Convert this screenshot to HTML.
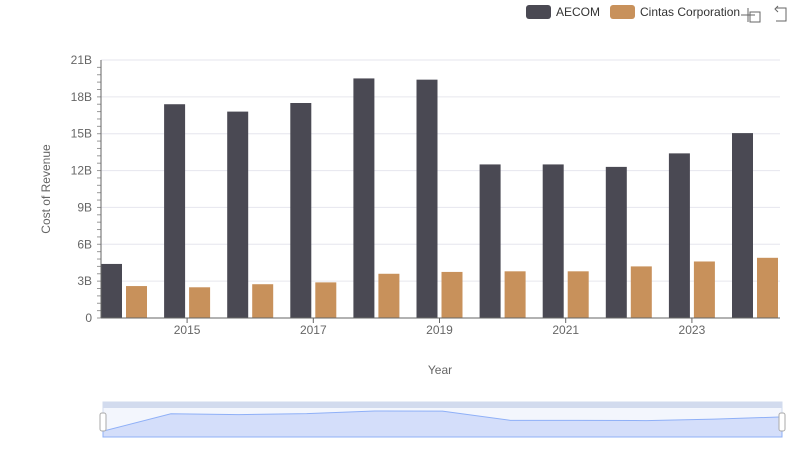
<!DOCTYPE html>
<html><head><meta charset="utf-8"><style>
body{margin:0;background:#fff;font-family:"Liberation Sans",sans-serif}
svg text{font-family:"Liberation Sans",sans-serif}
</style></head><body>
<svg id="c" width="800" height="461" xmlns="http://www.w3.org/2000/svg">
<g>
<rect x="526" y="5" width="25" height="14" rx="3" fill="#4a4953"/>
<text x="556" y="16" font-size="12" fill="#333">AECOM</text>
<rect x="610" y="5" width="25" height="14" rx="3" fill="#c8915b"/>
<text x="640" y="16" font-size="12" fill="#333">Cintas Corporation</text>
<path d="M748 8v14M741 15h14M750 12h10v10h-10z" stroke="#666" fill="none"/>
<path d="M776 8h10v13h-10M778 6l-3 3 3 3" stroke="#666" fill="none"/>
</g>
<g id="grid"></g><g id="bars"></g><g id="axes"></g>
<text x="50" y="189" font-size="12" fill="#666" transform="rotate(-90 50 189)" text-anchor="middle">Cost of Revenue</text>
<text x="440" y="374" font-size="12" fill="#666" text-anchor="middle">Year</text>
<g>
<rect x="103" y="402" width="679" height="35" fill="#f3f6fd" stroke="#d2dbee"/>
<rect x="103" y="402" width="679" height="6" fill="#d2dbee"/>
<path id="zoomArea" fill="#d4defa" stroke="#8fb0f7" stroke-width="1"/>
<rect x="100" y="413" width="6" height="18" rx="2" fill="#fff" stroke="#aaa"/>
<rect x="779" y="413" width="6" height="18" rx="2" fill="#fff" stroke="#aaa"/>
</g>
</svg>
<script>
const years=[2014,2015,2016,2017,2018,2019,2020,2021,2022,2023,2024];
const aecom=[4.4,17.4,16.8,17.5,19.5,19.4,12.5,12.5,12.3,13.4,15.05];
const cintas=[2.6,2.5,2.75,2.9,3.6,3.75,3.8,3.8,4.2,4.6,4.9];
const yTicks=[0,3,6,9,12,15,18,21];
const yLabels=["0","3B","6B","9B","12B","15B","18B","21B"];
const NS="http://www.w3.org/2000/svg";
const y0=318,y1=60,yMax=21;
const ys=v=>y0-(v/yMax)*(y0-y1);
const xc=i=>124+i*63.1;
function mk(p,t,a){const e=document.createElementNS(NS,t);for(const k in a)e.setAttribute(k,a[k]);p.appendChild(e);return e;}
const grid=document.getElementById('grid'),bars=document.getElementById('bars'),axes=document.getElementById('axes');
yTicks.forEach((t,i)=>{
 const l=mk(grid,'line',{x1:101,x2:780,y1:ys(t),y2:ys(t),stroke:'#e6e6ee'});
 
 
 const tx=mk(axes,'text',{x:92,y:ys(t)+4,'font-size':12,fill:'#666','text-anchor':'end'});
 tx.textContent=yLabels[i];
 
 
});
for(let v=0;v<=yMax;v+=0.6){mk(axes,'line',{x1:97,x2:101,y1:ys(v),y2:ys(v),stroke:'#999'});}
mk(axes,'line',{x1:101,x2:101,y1:y1,y2:y0,stroke:'#666'});
mk(axes,'line',{x1:101,x2:780,y1:y0,y2:y0,stroke:'#666'});
years.forEach((yr,i)=>{
 const a=mk(bars,'rect',{x:xc(i)-23,y:ys(aecom[i]),width:21,height:y0-ys(aecom[i]),fill:'#4a4953'});
 
 
 const c=mk(bars,'rect',{x:xc(i)+2,y:ys(cintas[i]),width:21,height:y0-ys(cintas[i]),fill:'#c8915b'});
 
 
 if(yr%2==1){
  mk(axes,'line',{x1:xc(i),x2:xc(i),y1:y0,y2:y0+5,stroke:'#666'});
  const t=mk(axes,'text',{x:xc(i),y:y0+16,'font-size':12,fill:'#666','text-anchor':'middle'});
  t.textContent=yr;
  
  
 }
});
let d='M103 437';
aecom.forEach((v,i)=>{d+=' L'+(103+i*67.9)+' '+(437-v/yMax*28);});
d+=' L782 437Z';
document.getElementById('zoomArea').setAttribute('d',d);
</script>
</body></html>
